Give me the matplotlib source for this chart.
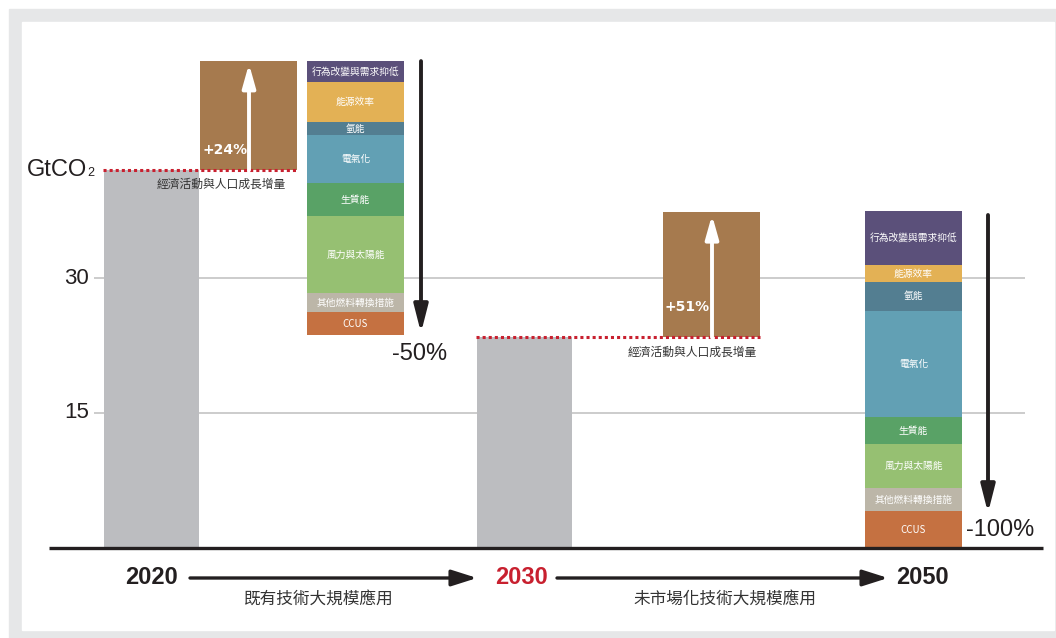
import matplotlib.pyplot as plt
from matplotlib.patches import Rectangle

plt.rcParams['font.family'] = ['Liberation Sans', 'DejaVu Sans']

CJK = ['Noto Sans CJK TC', 'DejaVu Sans']

# values (GtCO2)
years = ['2020', '2030', '2050']
emissions = [42.0, 23.4]            # grey bars 2020, 2030
growth = [12.1, 13.9]               # economic / population growth boxes
growth_labels = ['+24%', '+51%']
cut_labels = ['-50%', '-100%']
growth_text = '經濟活動與人口成長增量'
phases = ['既有技術大規模應用', '未市場化技術大規模應用']
yticks = [15, 30]

measures = ['行為改變與需求抑低', '能源效率', '氫能', '電氣化', '生質能',
            '風力與太陽能', '其他燃料轉換措施', 'CCUS']
cut_2030 = [2.33, 4.44, 1.44, 5.33, 3.67, 8.56, 2.11, 2.56]
cut_2050 = [6.0, 1.89, 3.22, 11.78, 3.0, 4.89, 2.56, 4.11]
measure_colors = ['#5b507a', '#e3b155', '#537e91', '#62a0b4', '#59a266',
                  '#96c072', '#bcb6a8', '#c57141']

grey = '#bcbdc0'
brown = '#a67a4e'
red = '#c8202f'
black = '#231f20'

fig = plt.figure(figsize=(10.56, 6.38), dpi=100)

# frame
bg = fig.add_axes([0, 0, 1, 1])
bg.set_xlim(0, 1056)
bg.set_ylim(638, 0)
bg.axis('off')
bg.add_patch(Rectangle((9, 9), 1047, 629, color='#e6e7e8'))
bg.add_patch(Rectangle((22, 22), 1032, 608, color='white'))

# chart axes: x in layout pixels, y in GtCO2
ppu = 9.0
base_px = 548
ax = fig.add_axes([0, 0, 1, 1])
ax.set_xlim(0, 1056)
ax.set_ylim((base_px - 638) / ppu, base_px / ppu)
ax.axis('off')
ax.patch.set_alpha(0)

ax.hlines(yticks, 94, 1025, color='#c4c4c4', lw=1.2, zorder=0)
for t in yticks:
    ax.text(89, t, str(t), ha='right', va='center', fontsize=16, color=black)
g = ax.text(27, emissions[0], 'GtCO', ha='left', va='center', fontsize=17, color=black)
ax.annotate('2', xy=(1, 0.1), xycoords=g, ha='left', va='bottom', fontsize=9, color=black)

bar_left = [104, 477]
box_left = [200, 663]
stack_left = [307, 865]
growth_text_x = [221, 692]
growth_label_dy = [2.2, 3.4]

for i in range(2):
    e = emissions[i]
    ax.bar(bar_left[i], e, 95, 0, align='edge', color=grey, zorder=2)
    ax.bar(box_left[i], growth[i], 97, e, align='edge', color=brown, zorder=2)
    ax.hlines(e, bar_left[i] - 1, box_left[i] + 97, color=red, lw=2.2,
              linestyle=(0, (1, 1)), zorder=3)
    ax.annotate('', xy=(box_left[i] + 49, e + growth[i] - 0.3), xytext=(box_left[i] + 49, e),
                arrowprops=dict(arrowstyle='-|>,head_length=1.0,head_width=0.28', color='white',
                                lw=2.8, mutation_scale=14, shrinkA=0, shrinkB=0), zorder=4)
    ax.text(growth_text_x[i], e - 1.6, growth_text, ha='center', va='center',
            fontsize=8.5, color='#333333', family=CJK)
    ax.text(box_left[i] + 2, e + growth_label_dy[i], growth_labels[i], ha='left', va='center',
            fontsize=10, fontweight='bold', color='white', family=['DejaVu Sans'])

# 2030 stack, hanging down from the top of the growth box
top = emissions[0] + growth[0]
for name, h, c in zip(measures, cut_2030, measure_colors):
    ax.bar(stack_left[0], h, 97, top - h, align='edge', color=c, zorder=2)
    ax.text(stack_left[0] + 48.5, top - h / 2, name, ha='center', va='center',
            fontsize=7, color='white', family=CJK, zorder=3)
    top -= h

# 2050 stack, standing on the baseline
bottom = 0
for name, h, c in zip(measures[::-1], cut_2050[::-1], measure_colors[::-1]):
    ax.bar(stack_left[1], h, 97, bottom, align='edge', color=c, zorder=2)
    ax.text(stack_left[1] + 48.5, bottom + h / 2, name, ha='center', va='center',
            fontsize=7, color='white', family=CJK, zorder=3)
    bottom += h

# reduction arrows
down = dict(arrowstyle='-|>,head_length=1.1,head_width=0.28', color=black,
            lw=2.8, mutation_scale=15, shrinkA=0, shrinkB=0)
ax.annotate('', xy=(421, 23.9), xytext=(421, 54.1), arrowprops=down)
ax.annotate('', xy=(988, 3.9), xytext=(988, 37.0), arrowprops=down)
ax.text(420, 21.6, cut_labels[0], ha='center', va='center', fontsize=17, color=black)
ax.text(1000, 2.0, cut_labels[1], ha='center', va='center', fontsize=17, color=black)

ax.hlines(0, 49, 1043, color=black, lw=2.4, zorder=5)

# timeline
ty = (base_px - 578) / ppu
py = (base_px - 599) / ppu
for x, yr, c in zip([152, 521, 922], years, [black, red, black]):
    ax.text(x, ty, yr, ha='center', va='center', fontsize=17, fontweight='bold', color=c)
tl = dict(arrowstyle='-|>,head_length=1.1,head_width=0.35', color=black,
          lw=2.4, mutation_scale=14, shrinkA=0, shrinkB=0)
ax.annotate('', xy=(477, ty), xytext=(190, ty), arrowprops=tl)
ax.annotate('', xy=(888, ty), xytext=(557, ty), arrowprops=tl)
ax.text(319, py, phases[0], ha='center', va='center', fontsize=12, color='#333333', family=CJK)
ax.text(725, py, phases[1], ha='center', va='center', fontsize=12, color='#333333', family=CJK)

fig.savefig('out.png', dpi=100)
